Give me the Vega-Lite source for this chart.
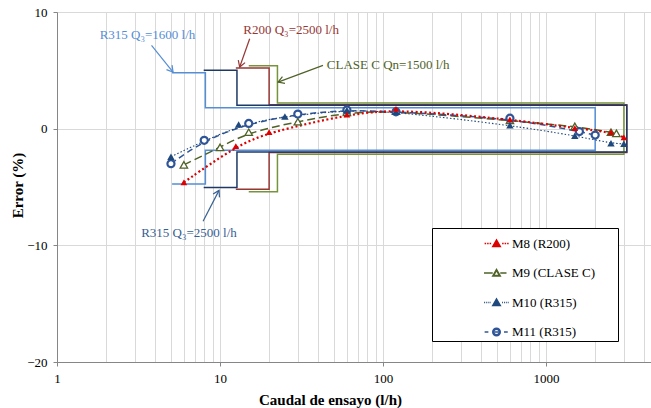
{
  "$schema": "https://vega.github.io/schema/vega-lite/v6.json",
  "autosize": {"type": "none"},
  "width": 594,
  "height": 350,
  "padding": {"left": 57, "top": 12, "right": 0, "bottom": 46},
  "config": {"view": {"stroke": null}, "font": "Liberation Serif"},
  "datasets": {
    "pts": [
      {"s": "M8 (R200)", "q": 6, "e": -4.6},
      {"s": "M8 (R200)", "q": 12.5, "e": -1.5},
      {"s": "M8 (R200)", "q": 20, "e": -0.3},
      {"s": "M8 (R200)", "q": 60, "e": 1.2},
      {"s": "M8 (R200)", "q": 120, "e": 1.7},
      {"s": "M8 (R200)", "q": 600, "e": 0.8},
      {"s": "M8 (R200)", "q": 1500, "e": 0.05},
      {"s": "M8 (R200)", "q": 2500, "e": -0.3},
      {"s": "M8 (R200)", "q": 3000, "e": -0.75},
      {"s": "M9 (CLASE C)", "q": 6, "e": -3.1},
      {"s": "M9 (CLASE C)", "q": 10, "e": -1.6},
      {"s": "M9 (CLASE C)", "q": 15, "e": -0.3},
      {"s": "M9 (CLASE C)", "q": 30, "e": 0.6},
      {"s": "M9 (CLASE C)", "q": 60, "e": 1.4},
      {"s": "M9 (CLASE C)", "q": 120, "e": 1.5},
      {"s": "M9 (CLASE C)", "q": 600, "e": 0.7},
      {"s": "M9 (CLASE C)", "q": 1500, "e": 0.2},
      {"s": "M9 (CLASE C)", "q": 2500, "e": -0.3},
      {"s": "M9 (CLASE C)", "q": 2700, "e": -0.4},
      {"s": "M10 (R315)", "q": 5, "e": -2.4},
      {"s": "M10 (R315)", "q": 13, "e": 0.35},
      {"s": "M10 (R315)", "q": 25, "e": 1.05},
      {"s": "M10 (R315)", "q": 60, "e": 1.6},
      {"s": "M10 (R315)", "q": 120, "e": 1.45},
      {"s": "M10 (R315)", "q": 600, "e": 0.3},
      {"s": "M10 (R315)", "q": 1500, "e": -0.6},
      {"s": "M10 (R315)", "q": 2500, "e": -1.25},
      {"s": "M10 (R315)", "q": 3000, "e": -1.3},
      {"s": "M11 (R315)", "q": 5, "e": -3.0},
      {"s": "M11 (R315)", "q": 8, "e": -1.0},
      {"s": "M11 (R315)", "q": 15, "e": 0.45},
      {"s": "M11 (R315)", "q": 30, "e": 1.25},
      {"s": "M11 (R315)", "q": 60, "e": 1.6},
      {"s": "M11 (R315)", "q": 120, "e": 1.45},
      {"s": "M11 (R315)", "q": 600, "e": 0.9},
      {"s": "M11 (R315)", "q": 1600, "e": -0.25},
      {"s": "M11 (R315)", "q": 2000, "e": -0.55}
    ],
    "env": [
      {"s": "e1600", "o": 1, "q": 5.08, "e": 4.8},
      {"s": "e1600", "o": 2, "q": 8.13, "e": 4.8},
      {"s": "e1600", "o": 3, "q": 8.13, "e": 1.8},
      {"s": "e1600", "o": 4, "q": 2000, "e": 1.8},
      {"s": "e1600", "o": 5, "q": 2000, "e": -1.85},
      {"s": "e1600", "o": 6, "q": 8.13, "e": -1.85},
      {"s": "e1600", "o": 7, "q": 8.13, "e": -4.75},
      {"s": "e1600", "o": 8, "q": 5.08, "e": -4.75},
      {"s": "eR200", "o": 1, "q": 12.5, "e": 5.2},
      {"s": "eR200", "o": 2, "q": 20, "e": 5.2},
      {"s": "eR200", "o": 3, "q": 20, "e": 2.05},
      {"s": "eR200", "o": 4, "q": 3125, "e": 2.05},
      {"s": "eR200", "o": 5, "q": 3125, "e": -2.05},
      {"s": "eR200", "o": 6, "q": 20, "e": -2.05},
      {"s": "eR200", "o": 7, "q": 20, "e": -5.2},
      {"s": "eR200", "o": 8, "q": 12.5, "e": -5.2},
      {"s": "eC", "o": 1, "q": 15, "e": 5.4},
      {"s": "eC", "o": 2, "q": 22.5, "e": 5.4},
      {"s": "eC", "o": 3, "q": 22.5, "e": 2.2},
      {"s": "eC", "o": 4, "q": 3000, "e": 2.2},
      {"s": "eC", "o": 5, "q": 3000, "e": -2.2},
      {"s": "eC", "o": 6, "q": 22.5, "e": -2.2},
      {"s": "eC", "o": 7, "q": 22.5, "e": -5.4},
      {"s": "eC", "o": 8, "q": 15, "e": -5.4},
      {"s": "e2500", "o": 1, "q": 7.94, "e": 5.0},
      {"s": "e2500", "o": 2, "q": 12.7, "e": 5.0},
      {"s": "e2500", "o": 3, "q": 12.7, "e": 2.0},
      {"s": "e2500", "o": 4, "q": 3125, "e": 2.0},
      {"s": "e2500", "o": 5, "q": 3125, "e": -2.0},
      {"s": "e2500", "o": 6, "q": 12.7, "e": -2.0},
      {"s": "e2500", "o": 7, "q": 12.7, "e": -5.05},
      {"s": "e2500", "o": 8, "q": 7.94, "e": -5.05}
    ],
    "ann": [
      {"s": "a1", "label": "R315 Q₃=1600 l/h", "tx": 3.59, "ty": 8.0, "x1": 3.8, "y1": 7.14, "x2": 5.15, "y2": 4.85},
      {"s": "a2", "label": "R200 Q₃=2500 l/h", "tx": 27.3, "ty": 8.5, "x1": 15.2, "y1": 7.71, "x2": 13.2, "y2": 5.28},
      {"s": "a3", "label": "CLASE C Qn=1500 l/h", "tx": 107.4, "ty": 5.42, "x1": 42.8, "y1": 5.42, "x2": 22.7, "y2": 3.99},
      {"s": "a4", "label": "R315 Q₃=2500 l/h", "tx": 6.45, "ty": -8.97, "x1": 7.87, "y1": -7.94, "x2": 9.86, "y2": -5.29}
    ]
  },
  "layer": [
    {
      "data": {"name": "env"},
      "mark": {"type": "line", "strokeWidth": 1.5},
      "encoding": {
        "x": {
          "field": "q", "type": "quantitative", "title": "Caudal de ensayo (l/h)",
          "scale": {"type": "log", "domain": [1, 4400], "nice": false},
          "axis": {
            "values": [1,2,3,4,5,6,7,8,9,10,20,30,40,50,60,70,80,90,100,200,300,400,500,600,700,800,900,1000,2000,3000,4000],
            "labelExpr": "(datum.value == 1 || datum.value == 10 || datum.value == 100 || datum.value == 1000) ? format(datum.value, 'd') : ''",
            "labelOverlap": false, "labelFlush": false,
            "labelFont": "Liberation Serif", "labelFontSize": 13, "labelColor": "#000000", "labelPadding": 6,
            "tickSize": 4, "tickColor": "#868686",
            "tickOpacity": {"condition": {"test": "datum.value == 1 || datum.value == 10 || datum.value == 100 || datum.value == 1000", "value": 1}, "value": 0},
            "domainColor": "#868686", "gridColor": "#D9D9D9", "gridWidth": 1,
            "titleFont": "Liberation Serif", "titleFontSize": 15, "titleFontWeight": "bold", "titleColor": "#000000",
            "titleX": 273, "titleY": 37, "titleBaseline": "middle", "titleAlign": "center"
          }
        },
        "y": {
          "field": "e", "type": "quantitative", "title": "Error (%)",
          "scale": {"domain": [-20, 10]},
          "axis": {
            "values": [-20, -10, 0, 10],
            "labelFont": "Liberation Serif", "labelFontSize": 13, "labelColor": "#000000", "labelPadding": 6,
            "tickSize": 4, "tickColor": "#868686",
            "domainColor": "#868686", "gridColor": "#D9D9D9", "gridWidth": 1,
            "titleFont": "Liberation Serif", "titleFontSize": 15, "titleFontWeight": "bold", "titleColor": "#000000",
            "titleX": -40, "titleY": 173, "titleAngle": -90, "titleBaseline": "middle", "titleAlign": "center"
          }
        },
        "order": {"field": "o", "type": "quantitative"},
        "color": {
          "field": "s", "type": "nominal",
          "scale": {
            "domain": ["M8 (R200)", "M9 (CLASE C)", "M10 (R315)", "M11 (R315)", "e1600", "eR200", "eC", "e2500", "a1", "a2", "a3", "a4"],
            "range": ["#DD0000", "#4F6228", "#1F497D", "#2F5597", "#558ED5", "#953735", "#77933C", "#1F3864", "#558ED5", "#953735", "#4F6228", "#376092"]
          },
          "legend": {
            "values": ["M8 (R200)", "M9 (CLASE C)", "M10 (R315)", "M11 (R315)"],
            "title": null,
            "orient": "none", "legendX": 375, "legendY": 216,
            "strokeColor": "#000000", "fillColor": "#FFFFFF", "padding": 2,
            "symbolOffset": 49, "symbolSize": 625, "rowPadding": 8.5,
            "symbolDash": [],
            "labelFont": "Liberation Serif", "labelFontSize": 13, "labelColor": "#000000", "labelOffset": 2,
            "encode": {
              "symbols": {
                "update": {
                  "shape": {"signal": "datum.value === 'M8 (R200)' ? 'M-0.95,0h0.12M-0.75,0h0.12M-0.55,0h0.12M0.45,0h0.12M0.65,0h0.12M0.85,0h0.12M-0.3,0.24L0,-0.28L0.3,0.24ZM9.3,0' : datum.value === 'M9 (CLASE C)' ? 'M-1,0H-0.3M0.3,0H0.8M-0.3,0.24L0,-0.28L0.3,0.24ZM-0.24,0.2L0.24,0.2L0,-0.21ZM9.3,0' : datum.value === 'M10 (R315)' ? 'M-1,0h0.07M-0.85,0h0.07M-0.7,0h0.07M-0.55,0h0.07M0.45,0h0.07M0.6,0h0.07M0.75,0h0.07M0.9,0h0.07M-0.3,0.24L0,-0.28L0.3,0.24ZM9.3,0' : 'M-0.95,0H-0.65M0.6,0H0.9M-0.3,0A0.3,0.3 0 1,0 0.3,0A0.3,0.3 0 1,0 -0.3,0ZM-0.22,0A0.22,0.22 0 1,1 0.22,0A0.22,0.22 0 1,1 -0.22,0ZM-0.14,0H0.14M9.3,0'"},
                  "size": {"value": 625}
                }
              }
            }
          }
        }
      }
    },
    {
      "data": {"name": "pts"},
      "transform": [{"filter": "datum.s === 'M9 (CLASE C)'"}],
      "mark": {"type": "line", "interpolate": "basis", "strokeWidth": 1.5, "strokeDash": [8, 4]},
      "encoding": {
        "x": {"field": "q", "type": "quantitative", "title": "Caudal de ensayo (l/h)"},
        "y": {"field": "e", "type": "quantitative", "title": "Error (%)"},
        "color": {"field": "s", "type": "nominal"}
      }
    },
    {
      "data": {"name": "pts"},
      "transform": [{"filter": "datum.s === 'M11 (R315)'"}],
      "mark": {"type": "line", "interpolate": "basis", "strokeWidth": 1.5, "strokeDash": [6, 4]},
      "encoding": {
        "x": {"field": "q", "type": "quantitative", "title": "Caudal de ensayo (l/h)"},
        "y": {"field": "e", "type": "quantitative", "title": "Error (%)"},
        "color": {"field": "s", "type": "nominal"}
      }
    },
    {
      "data": {"name": "pts"},
      "transform": [{"filter": "datum.s === 'M10 (R315)'"}],
      "mark": {"type": "line", "interpolate": "basis", "strokeWidth": 1.1, "strokeDash": [1.5, 2]},
      "encoding": {
        "x": {"field": "q", "type": "quantitative", "title": "Caudal de ensayo (l/h)"},
        "y": {"field": "e", "type": "quantitative", "title": "Error (%)"},
        "color": {"field": "s", "type": "nominal"}
      }
    },
    {
      "data": {"name": "pts"},
      "transform": [{"filter": "datum.s === 'M8 (R200)'"}],
      "mark": {"type": "line", "interpolate": "basis", "strokeWidth": 2.2, "strokeDash": [2, 2.5]},
      "encoding": {
        "x": {"field": "q", "type": "quantitative", "title": "Caudal de ensayo (l/h)"},
        "y": {"field": "e", "type": "quantitative", "title": "Error (%)"},
        "color": {"field": "s", "type": "nominal"}
      }
    },
    {
      "data": {"name": "pts"},
      "transform": [{"filter": "datum.s === 'M9 (CLASE C)'"}],
      "mark": {"type": "point", "shape": "triangle-up", "filled": false, "fill": "#FFFFFF", "fillOpacity": 1, "stroke": "#4F6228", "strokeWidth": 1.3, "size": 55, "opacity": 1},
      "encoding": {
        "x": {"field": "q", "type": "quantitative", "title": "Caudal de ensayo (l/h)"},
        "y": {"field": "e", "type": "quantitative", "title": "Error (%)"}
      }
    },
    {
      "data": {"name": "pts"},
      "transform": [{"filter": "datum.s === 'M11 (R315)'"}],
      "mark": {"type": "point", "shape": "circle", "filled": false, "fill": "#FFFFFF", "fillOpacity": 1, "stroke": "#2F5597", "strokeWidth": 2.2, "size": 50, "opacity": 1},
      "encoding": {
        "x": {"field": "q", "type": "quantitative", "title": "Caudal de ensayo (l/h)"},
        "y": {"field": "e", "type": "quantitative", "title": "Error (%)"}
      }
    },
    {
      "data": {"name": "pts"},
      "transform": [{"filter": "datum.s === 'M10 (R315)'"}],
      "mark": {"type": "point", "shape": "triangle-up", "filled": true, "color": "#1F497D", "size": 55, "opacity": 1},
      "encoding": {
        "x": {"field": "q", "type": "quantitative", "title": "Caudal de ensayo (l/h)"},
        "y": {"field": "e", "type": "quantitative", "title": "Error (%)"}
      }
    },
    {
      "data": {"name": "pts"},
      "transform": [{"filter": "datum.s === 'M8 (R200)'"}],
      "mark": {"type": "point", "shape": "triangle-up", "filled": true, "color": "#DD0000", "size": 45, "opacity": 1},
      "encoding": {
        "x": {"field": "q", "type": "quantitative", "title": "Caudal de ensayo (l/h)"},
        "y": {"field": "e", "type": "quantitative", "title": "Error (%)"}
      }
    },
    {
      "data": {"name": "ann"},
      "mark": {"type": "rule", "strokeWidth": 1.2},
      "encoding": {
        "x": {"field": "x1", "type": "quantitative", "title": "Caudal de ensayo (l/h)"},
        "y": {"field": "y1", "type": "quantitative", "title": "Error (%)"},
        "x2": {"field": "x2"},
        "y2": {"field": "y2"},
        "color": {"field": "s", "type": "nominal"}
      }
    },
    {
      "data": {"name": "ann"},
      "mark": {"type": "point", "filled": false, "strokeWidth": 1.2, "size": 144, "opacity": 1},
      "encoding": {
        "x": {"field": "x2", "type": "quantitative", "title": "Caudal de ensayo (l/h)"},
        "y": {"field": "y2", "type": "quantitative", "title": "Error (%)"},
        "shape": {
          "field": "s", "type": "nominal", "legend": null,
          "scale": {
            "domain": ["a1", "a2", "a3", "a4"],
            "range": ["M-1.097,-0.4L0,0L-0.163,-1.156", "M-0.234,-1.142L0,0L0.898,-0.744", "M0.729,-0.911L0,0L1.146,0.215", "M0.075,1.163L0,0L-0.991,0.613"]
          }
        },
        "color": {"field": "s", "type": "nominal"}
      }
    },
    {
      "data": {"name": "ann"},
      "mark": {"type": "text", "font": "Liberation Serif", "fontSize": 13, "align": "center", "baseline": "middle"},
      "encoding": {
        "x": {"field": "tx", "type": "quantitative", "title": "Caudal de ensayo (l/h)"},
        "y": {"field": "ty", "type": "quantitative", "title": "Error (%)"},
        "text": {"field": "label"},
        "color": {"field": "s", "type": "nominal"}
      }
    }
  ]
}
